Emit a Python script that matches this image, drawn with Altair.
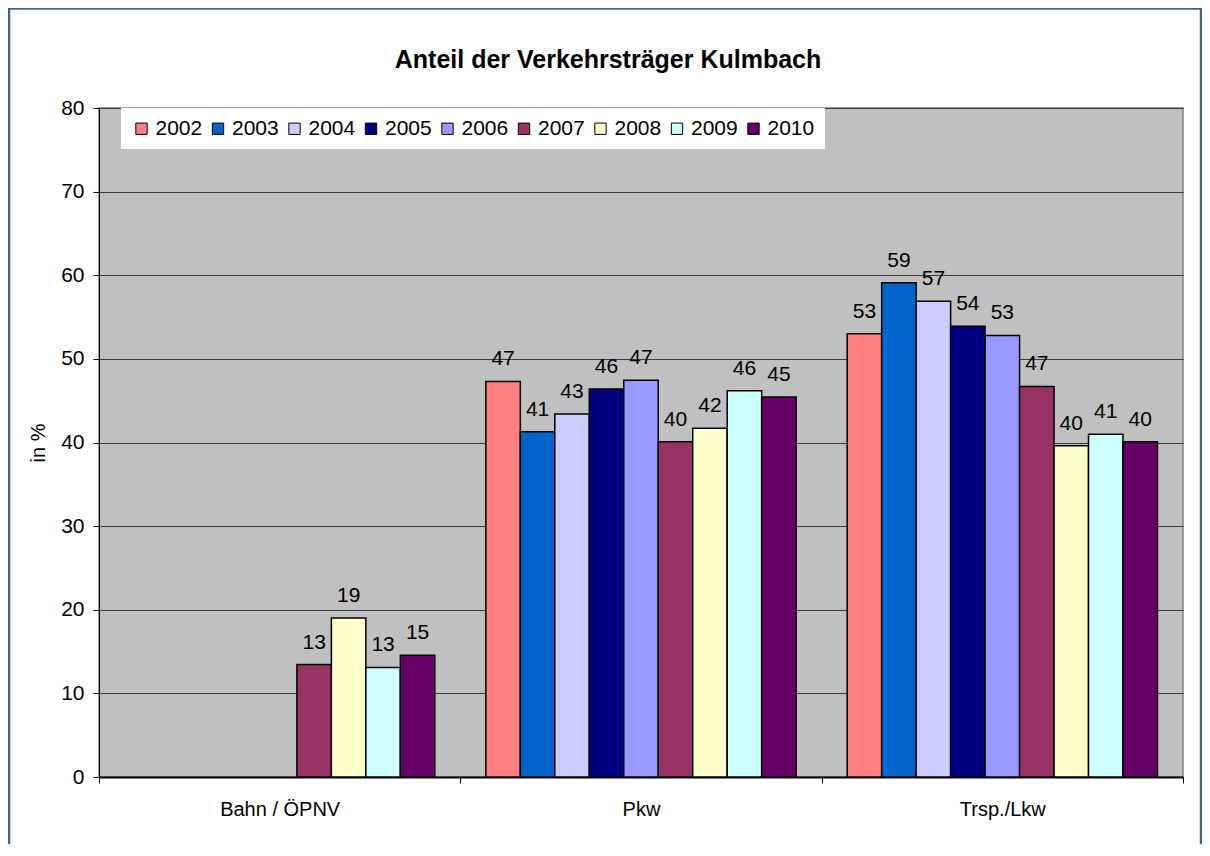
import altair as alt
import pandas as pd

# ---- data ----
categories = ["Bahn / ÖPNV", "Pkw", "Trsp./Lkw"]
years = ["2002", "2003", "2004", "2005", "2006", "2007", "2008", "2009", "2010"]
colors = ["#FF8080", "#0066CC", "#CCCCFF", "#000080", "#9999FF",
          "#993366", "#FFFFCC", "#CCFFFF", "#660066"]
bahn = [None, None, None, None, None, 13.45, 19.0, 13.1, 14.55]
pkw = [47.3, 41.3, 43.4, 46.4, 47.45, 40.1, 41.7, 46.2, 45.45]
trsp = [53.0, 59.1, 56.9, 53.9, 52.8, 46.7, 39.6, 41.0, 40.1]
y_ticks = [0, 10, 20, 30, 40, 50, 60, 70, 80]

rows = []
for cat, vals in zip(categories, [bahn, pkw, trsp]):
    for yr, v in zip(years, vals):
        if v is not None:
            rows.append({"cat": cat, "year": yr, "value": v})
df = pd.DataFrame(rows)

FONT = "Liberation Sans"
W, H = 1084, 669

x_enc = alt.X("cat:N", sort=categories,
              scale=alt.Scale(paddingInner=0, paddingOuter=0),
              axis=alt.Axis(title=None, labelAngle=0, tickBand="extent",
                            labelFontSize=20, labelPadding=16, tickSize=6,
                            domainColor="black", domainWidth=2,
                            tickColor="black", labelColor="black", grid=False))
xo_enc = alt.XOffset("year:N", scale=alt.Scale(domain=years, paddingInner=0, paddingOuter=0.74))
y_enc = alt.Y("value:Q", scale=alt.Scale(domain=[0, 80], nice=False),
              axis=alt.Axis(values=y_ticks, title="in %", titleFontSize=20,
                            titleFontWeight="normal", titleColor="black",
                            titlePadding=12, labelFontSize=21, labelColor="black",
                            labelPadding=9, tickSize=6, tickColor="black",
                            domainColor="black", domainWidth=1,
                            grid=True, gridColor="#3a3a3a", gridWidth=1))

bars = alt.Chart(df).mark_bar(stroke="black", strokeWidth=1.5).encode(
    x=x_enc,
    xOffset=xo_enc,
    y=y_enc,
    color=alt.Color("year:N", scale=alt.Scale(domain=years, range=colors),
                    legend=alt.Legend(title=None, orient="none", legendX=22, legendY=0,
                                      direction="horizontal", fillColor="white",
                                      padding=10, symbolType="square", symbolSize=128,
                                      symbolStrokeColor="black", symbolStrokeWidth=1,
                                      symbolOpacity=1, labelFontSize=21, labelFont=FONT,
                                      labelColor="black", labelOffset=3.5,
                                      columnPadding=4.5)),
)

labels = alt.Chart(df).mark_text(dy=-16, baseline="alphabetic", fontSize=21,
                                 font=FONT, color="black").encode(
    x=alt.X("cat:N", sort=categories),
    xOffset=alt.XOffset("year:N"),
    y=alt.Y("value:Q"),
    text=alt.Text("value:Q", format=".0f"),
)

border = alt.Chart(pd.DataFrame({"a": [0]})).mark_rect(
    fillOpacity=0, stroke="#3F6783", strokeWidth=2.5
).encode(x=alt.value(-90), x2=alt.value(1102), y=alt.value(-99.5), y2=alt.value(760))

chart = alt.layer(border, bars, labels).properties(
    width=W, height=H,
    padding={"left": 91, "top": 100, "right": 19, "bottom": 67},
    autosize=alt.AutoSizeParams(type="none"),
    title=alt.TitleParams(text="Anteil der Verkehrsträger Kulmbach", fontSize=25,
                          font=FONT, fontWeight="bold", anchor="middle", dx=-33,
                          offset=0, dy=86, baseline="alphabetic", color="black"),
).configure(
    font=FONT, background="white"
).configure_view(
    fill="#C0C0C0", stroke="#808080", strokeWidth=1.5
).configure_axis(labelFont=FONT, titleFont=FONT)

chart.save("out.html", embed_options={"renderer": "svg", "actions": False})
